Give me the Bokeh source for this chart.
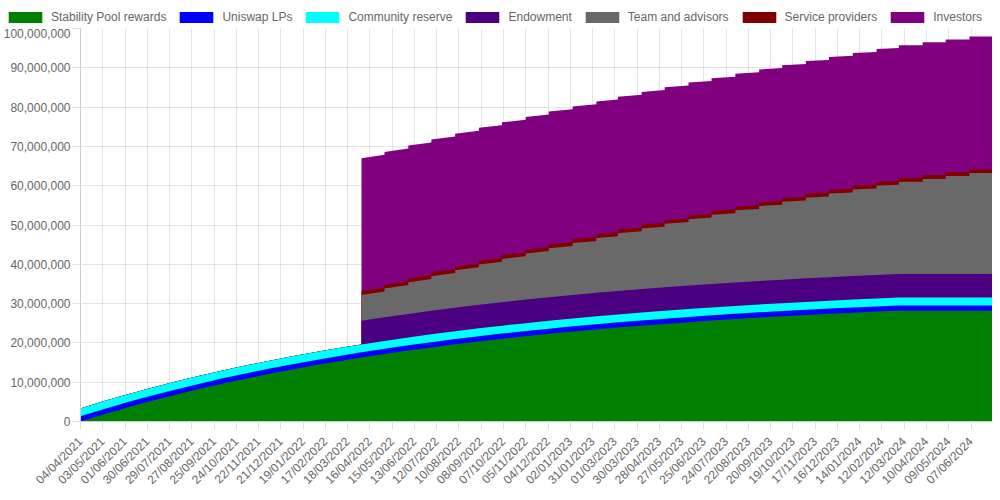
import numpy as np
import pandas as pd
from bokeh.plotting import figure
from bokeh.layouts import column
from bokeh.models import (Range1d, FixedTicker, NumeralTickFormatter, Legend, LegendItem,
                          SingleIntervalTicker)
from bokeh.embed import file_html
from bokeh.resources import INLINE

# ---------------- data (millions of LQTY) ----------------
start_date = "2021-04-04"
sample_dates = [
    "2021-04-04", "2021-05-05", "2021-06-05", "2021-07-05", "2021-08-05", "2021-09-05",
    "2021-10-05", "2021-11-05", "2021-12-05", "2022-01-05", "2022-02-05", "2022-03-05",
    "2022-04-05", "2022-05-05", "2022-06-05", "2022-07-05", "2022-08-05", "2022-09-05",
    "2022-10-05", "2022-11-05", "2022-12-05", "2023-01-05", "2023-02-05", "2023-03-05",
    "2023-04-05", "2023-05-05", "2023-06-05", "2023-07-05", "2023-08-05", "2023-09-05",
    "2023-10-05", "2023-11-05", "2023-12-05", "2024-01-05", "2024-02-05", "2024-03-05",
    "2024-04-05", "2024-05-05", "2024-06-05", "2024-07-05",
]
stability_pool = [0.00, 1.86, 3.61, 5.21, 6.77, 8.24, 9.58, 10.89, 12.09, 13.26, 14.35, 15.29,
                  16.28, 17.17, 18.05, 18.86, 19.64, 20.37, 21.04, 21.70, 22.30, 22.88, 23.43, 23.90,
                  24.39, 24.84, 25.28, 25.68, 26.07, 26.44, 26.77, 27.10, 27.40, 27.69, 27.96, 28.20,
                  28.20, 28.20, 28.20, 28.20]
uniswap_lps = [1.33, 1.33, 1.33, 1.33, 1.33, 1.33, 1.33, 1.33, 1.33, 1.33, 1.33, 1.33,
               1.33, 1.33, 1.33, 1.33, 1.33, 1.33, 1.33, 1.33, 1.33, 1.33, 1.33, 1.33,
               1.33, 1.33, 1.33, 1.33, 1.33, 1.33, 1.33, 1.33, 1.33, 1.33, 1.33, 1.33,
               1.33, 1.33, 1.33, 1.33]
community_reserve = [2.0, 2.0, 2.0, 2.0, 2.0, 2.0, 2.0, 2.0, 2.0, 2.0, 2.0, 2.0,
                     2.0, 2.0, 2.0, 2.0, 2.0, 2.0, 2.0, 2.0, 2.0, 2.0, 2.0, 2.0,
                     2.0, 2.0, 2.0, 2.0, 2.0, 2.0, 2.0, 2.0, 2.0, 2.0, 2.0, 2.0,
                     2.0, 2.0, 2.0, 2.0]
endowment = [0, 0, 0, 0, 0, 0, 0, 0, 0, 0, 0, 0,
             6.0, 6.0, 6.0, 6.0, 6.0, 6.0, 6.0, 6.0, 6.0, 6.0, 6.0, 6.0,
             6.0, 6.0, 6.0, 6.0, 6.0, 6.0, 6.0, 6.0, 6.0, 6.0, 6.0, 6.0,
             6.0, 6.0, 6.0, 6.0]
team_advisors = [0, 0, 0, 0, 0, 0, 0, 0, 0, 0, 0, 0,
                 6.60, 7.33, 8.07, 8.80, 9.53, 10.27, 11.00, 11.73, 12.47, 13.20, 13.93, 14.67,
                 15.40, 16.13, 16.87, 17.60, 18.33, 19.07, 19.80, 20.53, 21.27, 22.00, 22.73, 23.47,
                 24.20, 24.93, 25.67, 26.40]
service_providers = [0, 0, 0, 0, 0, 0, 0, 0, 0, 0, 0, 0,
                     1.0, 1.0, 1.0, 1.0, 1.0, 1.0, 1.0, 1.0, 1.0, 1.0, 1.0, 1.0,
                     1.0, 1.0, 1.0, 1.0, 1.0, 1.0, 1.0, 1.0, 1.0, 1.0, 1.0, 1.0,
                     1.0, 1.0, 1.0, 1.0]
investors = [0, 0, 0, 0, 0, 0, 0, 0, 0, 0, 0, 0,
             33.75, 33.75, 33.75, 33.75, 33.75, 33.75, 33.75, 33.75, 33.75, 33.75, 33.75, 33.75,
             33.75, 33.75, 33.75, 33.75, 33.75, 33.75, 33.75, 33.75, 33.75, 33.75, 33.75, 33.75,
             33.75, 33.75, 33.75, 33.75]

tick_labels = [
    "04/04/2021", "03/05/2021", "01/06/2021", "30/06/2021", "29/07/2021", "27/08/2021",
    "25/09/2021", "24/10/2021", "22/11/2021", "21/12/2021", "19/01/2022", "17/02/2022",
    "18/03/2022", "16/04/2022", "15/05/2022", "13/06/2022", "12/07/2022", "10/08/2022",
    "08/09/2022", "07/10/2022", "05/11/2022", "04/12/2022", "02/01/2023", "31/01/2023",
    "01/03/2023", "30/03/2023", "28/04/2023", "27/05/2023", "25/06/2023", "24/07/2023",
    "22/08/2023", "20/09/2023", "19/10/2023", "17/11/2023", "16/12/2023", "14/01/2024",
    "12/02/2024", "12/03/2024", "10/04/2024", "09/05/2024", "07/06/2024",
]

series_names = ["Stability Pool rewards", "Uniswap LPs", "Community reserve", "Endowment",
                "Team and advisors", "Service providers", "Investors"]
series_colors = ["#008000", "#0000ff", "#00ffff", "#4b0082", "#696969", "#800000", "#800080"]

# ---------------- build stacked layers ----------------
d0 = pd.Timestamp(start_date)
xd = [(pd.Timestamp(s) - d0).days for s in sample_dates]
smooth = [stability_pool, uniswap_lps, community_reserve]          # vary continuously
stepped = [endowment, team_advisors, service_providers, investors]  # released monthly

xs, rows = [], []
for i, x in enumerate(xd):
    if i > 0:
        xs.append(x)
        rows.append([s[i] for s in smooth] + [s[i - 1] for s in stepped])
    xs.append(x)
    rows.append([s[i] for s in smooth] + [s[i] for s in stepped])
vals = np.array(rows) * 1e6
cum = np.cumsum(vals, axis=1)

tick_pos = [(pd.to_datetime(t, dayfirst=True) - d0).days for t in tick_labels]

lbl_font = "Liberation Sans"

# ---------------- legend strip ----------------
leg = figure(width=992, height=28, output_backend="svg", toolbar_location=None,
             x_range=Range1d(0, 1), y_range=Range1d(0, 1),
             x_axis_location=None, y_axis_location=None,
             min_border=0, min_border_left=0, min_border_right=0,
             min_border_top=0, min_border_bottom=0)
leg.grid.visible = False
leg.outline_line_color = None
leg_items = []
for name, col in zip(series_names, series_colors):
    # placeholder area lying outside the strip's range: only its legend swatch is seen
    r = leg.varea(x=[5, 6], y1=[5, 5], y2=[6, 6], fill_color=col)
    leg_items.append(LegendItem(label=name, renderers=[r]))
legend = Legend(items=leg_items, orientation="horizontal", location=(4, 4),
                glyph_width=42, glyph_height=14, label_standoff=5, spacing=9,
                padding=0, margin=0, border_line_color=None, background_fill_alpha=0,
                label_text_font=lbl_font, label_text_font_size="12px",
                label_text_color="#666666")
leg.add_layout(legend, "center")

# ---------------- main chart ----------------
p = figure(width=992, height=466, output_backend="svg", toolbar_location=None,
           x_range=Range1d(0, xd[-1]), y_range=Range1d(0, 100e6),
           min_border_left=72, min_border_right=0, min_border_top=0, min_border_bottom=68)
p.outline_line_color = None

for fig in (leg, p):
    try:
        fig.frame_align = False
    except Exception:
        pass

for k in reversed(range(len(series_names))):
    p.varea(x=xs, y1=np.zeros(len(xs)), y2=cum[:, k], fill_color=series_colors[k])

xt = FixedTicker(ticks=tick_pos)
p.xaxis.ticker = xt
p.xaxis.major_label_overrides = {tp: lab for tp, lab in zip(tick_pos, tick_labels)}
p.xaxis.major_label_orientation = np.pi / 4
p.yaxis.ticker = SingleIntervalTicker(interval=10e6, num_minor_ticks=0)
p.yaxis.formatter = NumeralTickFormatter(format="0,0")
for ax in (p.xaxis[0], p.yaxis[0]):
    ax.major_label_text_font = lbl_font
    ax.major_label_text_font_size = "12px"
    ax.major_label_text_color = "#666666"
    ax.axis_line_color = "#cccccc"
    ax.major_tick_line_color = "#e0e0e0"
    ax.major_tick_in = 0
    ax.major_tick_out = 8
    ax.minor_tick_line_color = None
p.xaxis.major_label_standoff = 10
p.yaxis.major_label_standoff = 2
p.xgrid.ticker = xt
p.grid.grid_line_color = "#000000"
p.grid.grid_line_alpha = 0.1

layout = column(leg, p, spacing=0)
open("out.html", "w").write(file_html(layout, INLINE))
